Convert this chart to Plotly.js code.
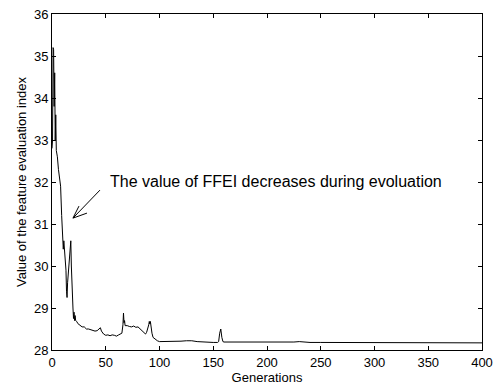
<!DOCTYPE html>
<html>
<head>
<meta charset="utf-8">
<script src="https://cdn.plot.ly/plotly-3.0.1.min.js"></script>
<style>html,body{margin:0;padding:0;background:#fff;}#chart{width:495px;height:386px;}</style>
</head>
<body>
<div id="chart"></div>
<script>
var generations = [0,0.5,1,1.5,2,2.5,3,3.5,4,5,6,7,8,9,10,10.5,11,12,13,13.5,14,14.5,15,16,17,17.5,18,18.5,19,19.5,20,20.5,21,21.5,22,23,24,26,28,30,32,34,36,38,40,42,44,45,46,47,48,50,52,54,56,58,60,62,64,65,66,66.5,67,67.5,68,70,72,74,76,78,80,82,84,86,87,88,89,90,90.5,91,91.5,92,93,94,96,98,100,105,110,115,120,125,128,130,135,140,145,150,154,155,156,157,158,159,160,165,170,180,190,200,210,220,225,230,235,240,250,260,270,280,290,300,310,320,330,340,350,360,370,380,390,400];
var ffei = [32.8,33.0,35.2,35.15,33.8,34.6,33.0,33.6,32.75,32.6,32.3,32.15,31.9,31.2,30.7,30.4,30.6,30.2,29.9,29.4,29.25,29.6,29.8,30.1,30.55,30.6,30.0,29.4,29.1,29.0,28.75,28.9,28.7,28.82,28.7,28.68,28.63,28.6,28.55,28.55,28.5,28.5,28.48,28.46,28.45,28.46,28.5,28.53,28.45,28.42,28.38,28.35,28.36,28.34,28.36,28.35,28.33,28.36,28.38,28.4,28.6,28.88,28.65,28.7,28.58,28.58,28.56,28.55,28.57,28.54,28.55,28.5,28.45,28.4,28.38,28.42,28.5,28.6,28.68,28.62,28.68,28.55,28.4,28.3,28.25,28.22,28.2,28.2,28.2,28.21,28.21,28.22,28.23,28.22,28.2,28.19,28.18,28.18,28.18,28.2,28.4,28.5,28.3,28.2,28.19,28.19,28.18,28.18,28.18,28.18,28.18,28.18,28.19,28.2,28.19,28.18,28.18,28.18,28.18,28.18,28.18,28.18,28.18,28.18,28.18,28.18,28.18,28.18,28.17,28.17,28.17,28.17];
var xTicks = [0,50,100,150,200,250,300,350,400];
var yTicks = [28,29,30,31,32,33,34,35,36];
var noteText = 'The value of FFEI decreases during evoluation';
var xTitle = 'Generations';
var yTitle = 'Value of the feature evaluation index';
var arrowTip = [19.5, 31.14];
var notePos = [52.5, 32.02];

var fam = 'Liberation Sans, Arial, sans-serif';
var axisCommon = {
  showgrid: false, zeroline: false, showline: true, linecolor: '#000', linewidth: 1,
  mirror: 'ticks', ticks: 'inside', ticklen: 4, tickwidth: 1, tickcolor: '#000',
  tickfont: {family: fam, size: 13, color: '#000'}
};
var layout = {
  width: 495, height: 386,
  margin: {l: 52, r: 13, t: 14, b: 36},
  paper_bgcolor: '#fff', plot_bgcolor: '#fff',
  showlegend: false,
  xaxis: Object.assign({}, axisCommon, {
    range: [0, 400], tickvals: xTicks, ticktext: xTicks.map(String),
    title: {text: xTitle, font: {family: fam, size: 13, color: '#000'}, standoff: 2}
  }),
  yaxis: Object.assign({}, axisCommon, {
    range: [28, 36], tickvals: yTicks, ticktext: yTicks.map(String),
    title: {text: yTitle, font: {family: fam, size: 13, color: '#000'}, standoff: 4}
  }),
  annotations: [
    {x: notePos[0], y: notePos[1], xref: 'x', yref: 'y', text: noteText, showarrow: false,
     xanchor: 'left', yanchor: 'middle', font: {family: fam, size: 16, color: '#000'}}
  ],
  shapes: [
    {type: 'path', xref: 'x', yref: 'y', xsizemode: 'pixel', ysizemode: 'pixel',
     xanchor: arrowTip[0], yanchor: arrowTip[1],
     path: 'M27,28L0,0M6,12L0,0L14,5',
     line: {color: '#000', width: 1}}
  ]
};
Plotly.newPlot('chart', [{
  x: generations, y: ffei, type: 'scatter', mode: 'lines',
  line: {color: '#000', width: 1}, hoverinfo: 'skip'
}], layout, {displayModeBar: false, staticPlot: true});
</script>
</body>
</html>
